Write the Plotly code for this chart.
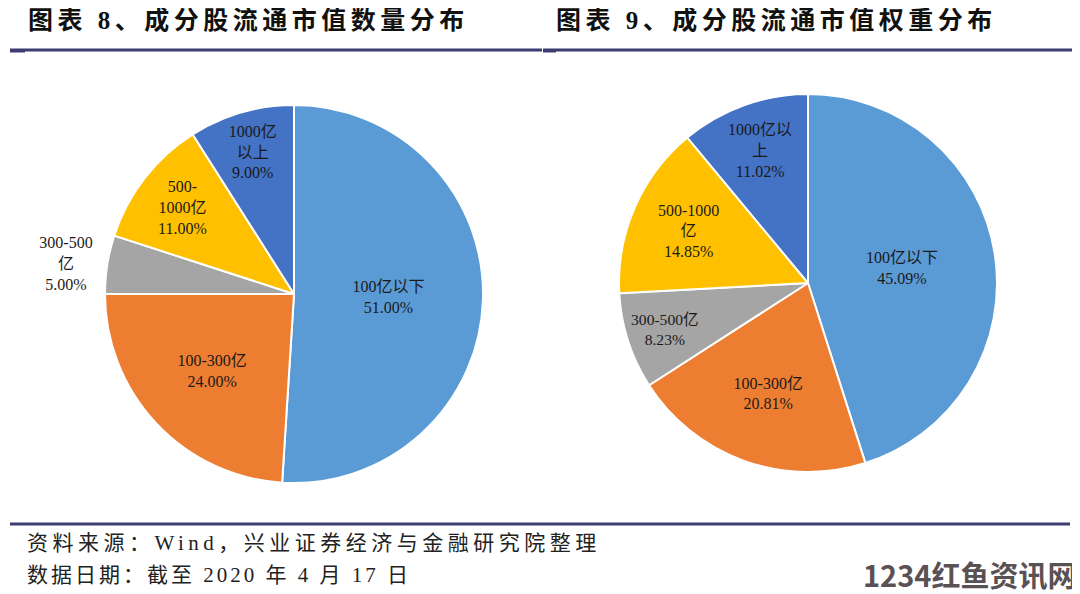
import plotly.graph_objects as go

# 数据
categories = ["100亿以下", "100-300亿", "300-500亿", "500-1000亿", "1000亿以上"]
count_share = [51.00, 24.00, 5.00, 11.00, 9.00]
weight_share = [45.09, 20.81, 8.23, 14.85, 11.02]

count_text = ["100亿以下", "100-300亿", "300-500<br>亿", "500-<br>1000亿", "1000亿<br>以上"]
weight_text = ["100亿以下", "100-300亿", "300-500亿", "500-1000<br>亿", "1000亿以<br>上"]

colors = ["#5b9bd5", "#ed7d31", "#a5a5a5", "#ffc000", "#4472c4"]

title_left = "图表 8、成分股流通市值数量分布"
title_right = "图表 9、成分股流通市值权重分布"
source_note = "资料来源：Wind，兴业证券经济与金融研究院整理"
date_note = "数据日期：截至 2020 年 4 月 17 日"
watermark = "1234红鱼资讯网"

# 页面 body 自带 8px 边距，图形尺寸相应缩小，坐标按截图像素换算
OFF = 8
W, H = 1080 - OFF, 594 - OFF
SERIF = "Liberation Serif, Times New Roman, Noto Sans CJK SC, serif"
LINE = "#3e3c70"


def px_x(x):
    return (x - OFF) / W


def px_y(y):
    return (H - (y - OFF)) / H


def spaced(s, px):
    return f'<span style="letter-spacing:{px}px">{s}</span>'


def make_pie(values, text, domain, positions):
    return go.Pie(
        labels=categories,
        values=values,
        text=text,
        texttemplate="%{text}<br>%{percent:.2%}",
        textposition=positions,
        insidetextorientation="horizontal",
        sort=False,
        direction="clockwise",
        rotation=0,
        marker=dict(colors=colors, line=dict(color="white", width=2)),
        textfont=dict(family=SERIF, size=16, color="#1a1a1a"),
        outsidetextfont=dict(family=SERIF, size=16, color="#1a1a1a"),
        domain=domain,
        showlegend=False,
        hoverinfo="label+percent",
    )


fig = go.Figure()

# 左图：中心 (294, 294)，半径 189
fig.add_trace(make_pie(
    count_share, count_text,
    dict(x=[px_x(105), px_x(483)], y=[px_y(483), px_y(105)]),
    ["inside", "inside", "outside", "inside", "inside"],
))

# 右图：中心 (808, 283)，半径 189
fig.add_trace(make_pie(
    weight_share, weight_text,
    dict(x=[px_x(619), px_x(997)], y=[px_y(472), px_y(94)]),
    "inside",
))

title_font = dict(family=SERIF, size=25, color="#111111", weight="bold")
note_font = dict(family=SERIF, size=21, color="#222222")

annotations = [
    dict(text=spaced(title_left, 4.5), x=px_x(26), y=px_y(21), xanchor="left",
         yanchor="middle", font=title_font),
    dict(text=spaced(title_right, 4.5), x=px_x(554), y=px_y(21), xanchor="left",
         yanchor="middle", font=title_font),
    dict(text=spaced(source_note, 4.5), x=px_x(25), y=px_y(543), xanchor="left",
         yanchor="middle", font=note_font),
    dict(text=spaced(date_note, 3), x=px_x(25), y=px_y(575), xanchor="left",
         yanchor="middle", font=note_font),
    dict(text=watermark, x=px_x(1078), y=px_y(574), xanchor="right", yanchor="middle",
         font=dict(family="Noto Sans CJK SC, sans-serif", size=29, color="#5a5154",
                   weight="bold")),
]
for a in annotations:
    a.update(xref="paper", yref="paper", showarrow=False)

shapes = [
    dict(type="line", x0=px_x(10), x1=px_x(542), y0=px_y(50), y1=px_y(50)),
    dict(type="line", x0=px_x(543), x1=px_x(1077), y0=px_y(50), y1=px_y(50)),
    dict(type="line", x0=px_x(10), x1=px_x(1070), y0=px_y(524), y1=px_y(524)),
    dict(type="line", x0=px_x(10), x1=px_x(25), y0=px_y(51), y1=px_y(51)),
    dict(type="line", x0=px_x(543), x1=px_x(556), y0=px_y(51), y1=px_y(51)),
]
for s in shapes:
    s.update(xref="paper", yref="paper", line=dict(color=LINE, width=3))

fig.update_layout(
    width=W,
    height=H,
    margin=dict(l=0, r=0, t=0, b=0),
    paper_bgcolor="white",
    plot_bgcolor="white",
    annotations=annotations,
    shapes=shapes,
)

fig.write_html("out.html")
